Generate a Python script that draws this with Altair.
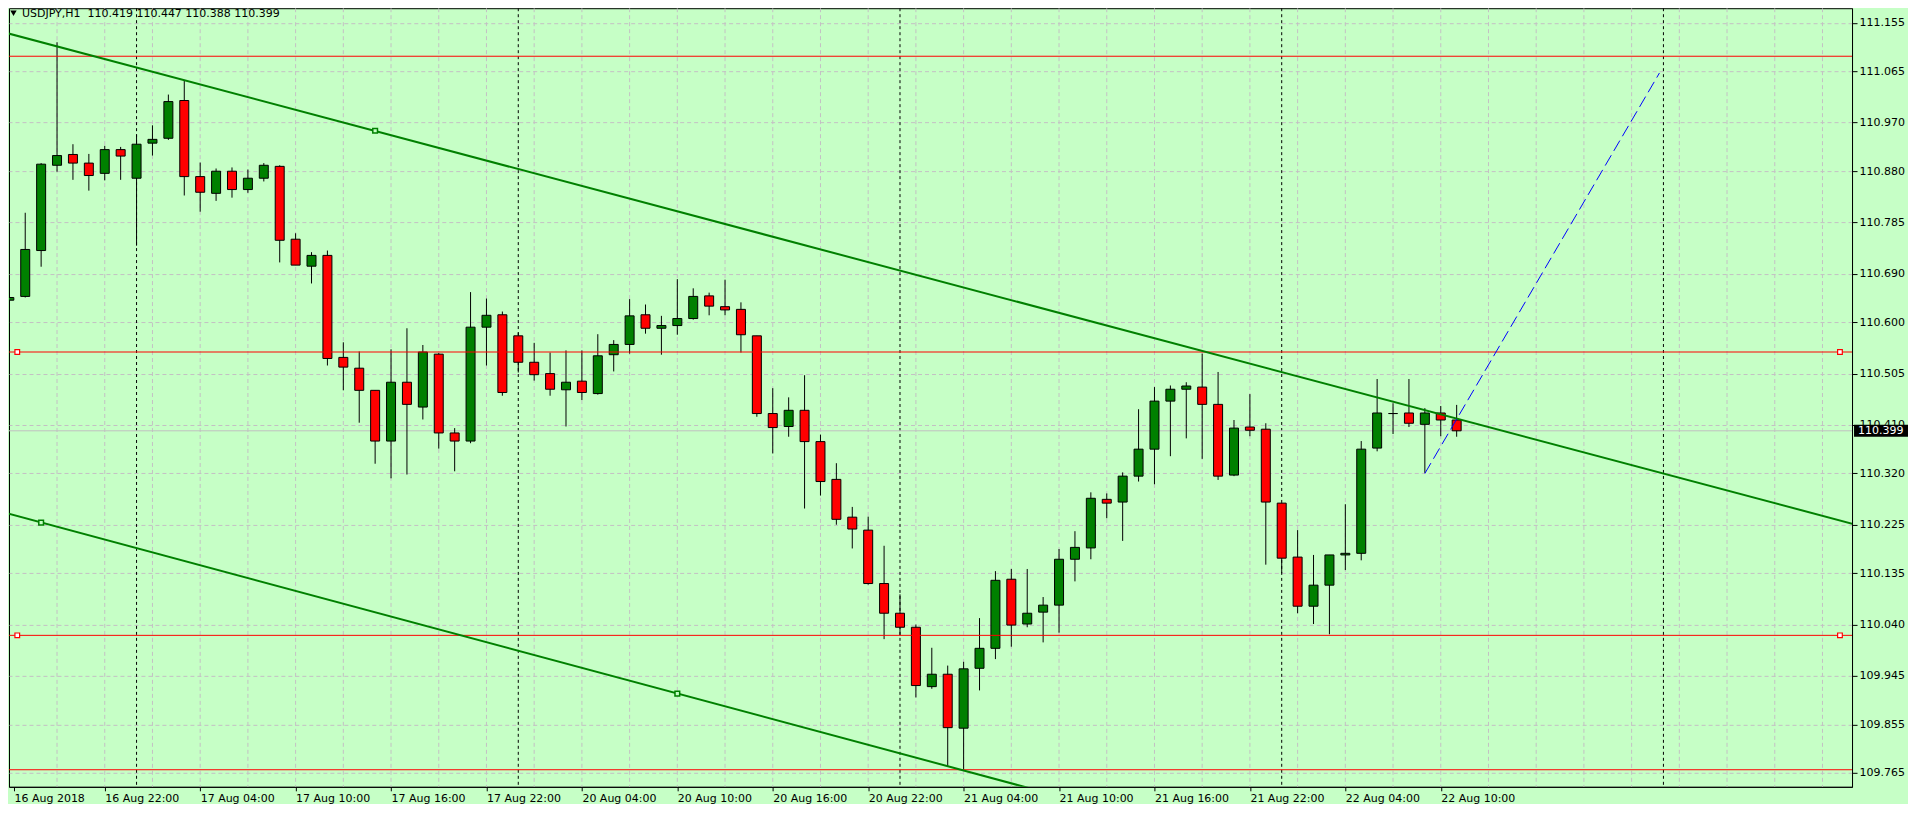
import altair as alt
import pandas as pd

# ---- hourly USDJPY candles (index 0 = 16 Aug 16:00) ----
opens = [110.641, 110.648, 110.733, 110.891, 110.911, 110.895, 110.876, 110.920, 110.867, 110.932,
         110.941, 111.011, 110.870, 110.839, 110.880, 110.846, 110.867, 110.889, 110.754, 110.704,
         110.724, 110.535, 110.515, 110.474, 110.380, 110.489, 110.443, 110.541, 110.395, 110.380,
         110.591, 110.614, 110.575, 110.526, 110.505, 110.475, 110.491, 110.468, 110.540, 110.559,
         110.614, 110.589, 110.594, 110.607, 110.649, 110.629, 110.624, 110.575, 110.431, 110.407,
         110.437, 110.379, 110.309, 110.239, 110.215, 110.116, 110.061, 110.035, 109.925, 109.948,
         109.848, 109.959, 109.996, 110.124, 110.041, 110.063, 110.076, 110.161, 110.182, 110.272,
         110.267, 110.315, 110.365, 110.454, 110.476, 110.480, 110.448, 110.317, 110.406, 110.402,
         110.265, 110.165, 110.074, 110.113, 110.169, 110.172, 110.367, 110.431, 110.432, 110.411,
         110.432, 110.419]
highs = [110.663, 110.803, 110.895, 111.119, 110.930, 110.912, 110.927, 110.925, 110.948, 110.965,
         111.022, 111.049, 110.896, 110.885, 110.887, 110.883, 110.895, 110.891, 110.765, 110.730,
         110.733, 110.563, 110.546, 110.474, 110.550, 110.589, 110.558, 110.543, 110.404, 110.656,
         110.644, 110.620, 110.581, 110.562, 110.544, 110.548, 110.548, 110.578, 110.567, 110.643,
         110.633, 110.612, 110.680, 110.663, 110.655, 110.679, 110.637, 110.575, 110.478, 110.461,
         110.502, 110.392, 110.339, 110.258, 110.240, 110.186, 110.096, 110.040, 109.997, 109.964,
         109.971, 110.052, 110.139, 110.143, 110.143, 110.091, 110.180, 110.213, 110.285, 110.283,
         110.322, 110.439, 110.480, 110.483, 110.489, 110.542, 110.508, 110.419, 110.467, 110.413,
         110.265, 110.215, 110.169, 110.169, 110.263, 110.380, 110.495, 110.450, 110.495, 110.441,
         110.445, 110.447]
lows = [110.555, 110.646, 110.703, 110.879, 110.864, 110.844, 110.863, 110.864, 110.742, 110.909,
        110.938, 110.835, 110.805, 110.825, 110.831, 110.840, 110.861, 110.711, 110.706, 110.672,
        110.520, 110.474, 110.414, 110.338, 110.311, 110.318, 110.420, 110.366, 110.324, 110.376,
        110.520, 110.464, 110.507, 110.492, 110.464, 110.407, 110.456, 110.466, 110.509, 110.542,
        110.579, 110.540, 110.577, 110.605, 110.613, 110.613, 110.544, 110.425, 110.357, 110.388,
        110.255, 110.279, 110.225, 110.181, 110.114, 110.013, 110.020, 109.905, 109.921, 109.777,
        109.771, 109.918, 109.976, 109.999, 110.035, 110.007, 110.025, 110.120, 110.161, 110.237,
        110.195, 110.305, 110.300, 110.352, 110.385, 110.347, 110.308, 110.315, 110.389, 110.151,
        110.135, 110.061, 110.041, 110.022, 110.141, 110.159, 110.361, 110.393, 110.406, 110.321,
        110.389, 110.388]
closes = [110.646, 110.735, 110.893, 110.909, 110.895, 110.872, 110.920, 110.908, 110.930, 110.939,
          111.009, 110.870, 110.841, 110.880, 110.846, 110.867, 110.891, 110.752, 110.706, 110.724,
          110.533, 110.517, 110.474, 110.380, 110.489, 110.448, 110.545, 110.395, 110.380, 110.591,
          110.613, 110.470, 110.526, 110.503, 110.476, 110.489, 110.470, 110.538, 110.559, 110.612,
          110.589, 110.594, 110.607, 110.648, 110.630, 110.623, 110.577, 110.431, 110.405, 110.437,
          110.379, 110.305, 110.235, 110.217, 110.116, 110.061, 110.035, 109.927, 109.948, 109.849,
          109.958, 109.996, 110.122, 110.039, 110.061, 110.076, 110.161, 110.183, 110.274, 110.265,
          110.315, 110.365, 110.454, 110.476, 110.482, 110.448, 110.315, 110.404, 110.400, 110.267,
          110.163, 110.074, 110.113, 110.169, 110.172, 110.365, 110.432, 110.431, 110.413, 110.432,
          110.419, 110.399]

# ---- axis ticks ----
x_tick_labels = ["16 Aug 2018", "16 Aug 22:00", "17 Aug 04:00", "17 Aug 10:00", "17 Aug 16:00",
                 "17 Aug 22:00", "20 Aug 04:00", "20 Aug 10:00", "20 Aug 16:00", "20 Aug 22:00",
                 "21 Aug 04:00", "21 Aug 10:00", "21 Aug 16:00", "21 Aug 22:00", "22 Aug 04:00",
                 "22 Aug 10:00"]
y_ticks = [111.155, 111.065, 110.970, 110.880, 110.785, 110.690, 110.600, 110.505, 110.410,
           110.320, 110.225, 110.135, 110.040, 109.945, 109.855, 109.765]

# ---- drawn objects ----
level_prices = [111.093, 110.545, 110.020, 109.771]
level_marker_k = [0.5, 115.1, 0.5, 115.1]
level_marker_p = [110.545, 110.545, 110.020, 110.020]
trend_names = ["upper", "upper", "lower", "lower"]
trend_k = [-1, 117, -1, 117]
trend_p = [111.1425, 110.218, 110.253, 109.318]
trend_marker_k = [23, 2, 42]
trend_marker_p = [110.955, 110.229, 109.912]
proj_k = [89, 103.75]
proj_p = [110.320, 111.062]
day_sep_k = [8, 32, 56, 80, 104]
bid_price = 110.399
title_text = "USDJPY,H1\u00a0\u00a0110.419 110.447 110.388 110.399"

W, H = 1844, 779
PX_PER_BAR = 16.0
PX_PER_UNIT = 540.0
FONT = "DejaVu Sans"
BG = "#C6FFC6"
GRID = "#C4C0C4"

x_left = 0.294
y_top = 111.182
xs = alt.Scale(domain=[x_left, x_left + W / PX_PER_BAR], nice=False, zero=False)
ys = alt.Scale(domain=[y_top - H / PX_PER_UNIT, y_top], nice=False, zero=False)

# first label sits on the left frame (the first bar is half hidden there)
x_tick_idx = [x_left] + [6 * i for i in range(1, len(x_tick_labels))]

label_arr = "[" + ",".join("'%s'" % s for s in x_tick_labels) + "]"
x_axis = alt.Axis(values=x_tick_idx, labelExpr=label_arr + "[round(datum.value/6)]",
                  title=None, grid=False, orient="bottom", labelAlign="left",
                  labelBaseline="top", labelPadding=2, tickSize=4, labelFlush=False,
                  labelOverlap=False, domainColor="black", tickColor="black",
                  labelColor="black", labelFont=FONT, labelFontSize=11)
y_axis = alt.Axis(values=y_ticks, format=".3f", title=None, orient="right", grid=True,
                  gridColor=GRID, gridDash=[4, 3], gridWidth=1, tickSize=5,
                  labelPadding=2, labelAlign="left", labelBaseline="middle",
                  domainColor="black", tickColor="black", labelColor="black",
                  labelFont=FONT, labelFontSize=11, labelOverlap=False, labelFlush=False)


def X(f):
    return alt.X(f, type="quantitative", scale=xs, axis=x_axis)


def Y(f):
    return alt.Y(f, type="quantitative", scale=ys, axis=y_axis)


candles = pd.DataFrame({"k": list(range(len(opens))), "o": opens, "h": highs,
                        "l": lows, "c": closes})
candles["dir"] = ["up" if c > o else ("down" if c < o else "flat")
                  for o, c in zip(candles["o"], candles["c"])]

vgrid = pd.DataFrame({"k": list(range(3, 116, 3))})
seps = pd.DataFrame({"k": day_sep_k})
levels = pd.DataFrame({"p": level_prices})
lvl_marks = pd.DataFrame({"k": level_marker_k, "p": level_marker_p})
trends = pd.DataFrame({"line": trend_names, "k": trend_k, "p": trend_p})
tr_marks = pd.DataFrame({"k": trend_marker_k, "p": trend_marker_p})
proj = pd.DataFrame({"k": proj_k, "p": proj_p})
half_box = 6 / PX_PER_UNIT
bid = pd.DataFrame({"p": [bid_price], "lo": [bid_price - half_box], "hi": [bid_price + half_box],
                    "t": ["%.3f" % bid_price]})
ttl = pd.DataFrame({"t": [title_text]})

l_vgrid = alt.Chart(vgrid).mark_rule(color=GRID, strokeDash=[4, 3], strokeWidth=1, clip=True).encode(x=X("k"))
l_seps = alt.Chart(seps).mark_rule(color="black", strokeDash=[3, 3], strokeWidth=1, clip=True).encode(x=X("k"))
l_bid = alt.Chart(bid).mark_rule(color="#C0C0C0", strokeWidth=1).encode(y=Y("p"))
l_wick = alt.Chart(candles).mark_rule(color="black", strokeWidth=1, clip=True).encode(
    x=X("k"), y=Y("l"), y2="h")
l_body = alt.Chart(candles).mark_bar(size=9, stroke="black", strokeWidth=1, clip=True).encode(
    x=X("k"), y=Y("o"), y2="c",
    color=alt.Color("dir:N", scale=alt.Scale(domain=["up", "down", "flat"],
                                             range=["#008000", "#FF0000", "#000000"]), legend=None))
l_levels = alt.Chart(levels).mark_rule(color="#FF0000", strokeWidth=1).encode(y=Y("p"))
l_trend = alt.Chart(trends).mark_line(color="#008000", strokeWidth=2, clip=True).encode(
    x=X("k"), y=Y("p"), detail="line:N")
l_proj = alt.Chart(proj).mark_line(color="#0000FF", strokeWidth=1, strokeDash=[12, 5], clip=True).encode(
    x=X("k"), y=Y("p"))
l_trm = alt.Chart(tr_marks).mark_square(filled=True, fill=BG, stroke="#008000", strokeWidth=1.5,
                                        size=22, opacity=1, clip=True).encode(x=X("k"), y=Y("p"))
l_lvm = alt.Chart(lvl_marks).mark_square(filled=True, fill="white", stroke="#FF0000", strokeWidth=1.2,
                                         size=22, opacity=1, clip=True).encode(x=X("k"), y=Y("p"))
l_tri = alt.Chart(ttl).mark_point(shape="triangle-down", filled=True, color="black", size=40,
                                  opacity=1).encode(x=alt.value(4.5), y=alt.value(5))
l_ttl = alt.Chart(ttl).mark_text(align="left", baseline="middle", font=FONT, fontSize=11,
                                 color="black").encode(x=alt.value(13), y=alt.value(6), text="t:N")
l_box = alt.Chart(bid).mark_rect(color="black").encode(
    x=alt.value(W + 2), x2=alt.value(W + 56), y=Y("lo"), y2="hi")
l_boxt = alt.Chart(bid).mark_text(align="left", baseline="middle", font=FONT, fontSize=11,
                                  color="white").encode(x=alt.value(W + 6), y=Y("p"), text="t:N")

chart = alt.layer(
    l_vgrid, l_seps, l_bid, l_wick, l_body, l_levels, l_trend, l_proj, l_trm, l_lvm,
    l_tri, l_ttl, l_box, l_boxt
).properties(
    width=W, height=H, padding={"left": 0, "top": 0, "right": 0, "bottom": 0}
).configure(
    background=BG, font=FONT
).configure_view(
    stroke="black", strokeWidth=1, fill=BG
)

chart.save("out.html", embed_options={"renderer": "svg", "actions": False})
